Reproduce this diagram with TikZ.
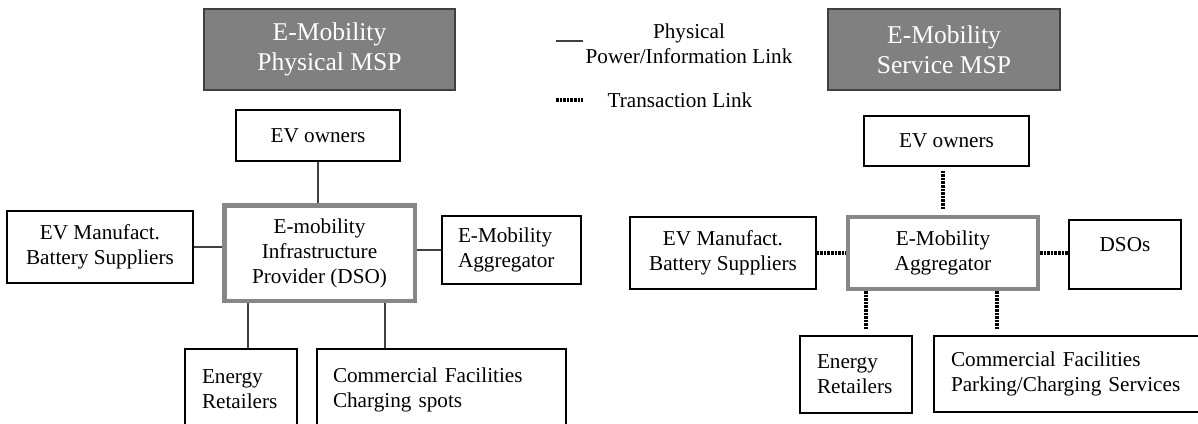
\documentclass[tikz,border=0pt]{standalone}
\usepackage{fontspec}
\setmainfont{Liberation Serif}
\usepackage{tikz}
\usepackage{xcolor}

\newcommand\unitfont{\fontsize{21.2}{25}\selectfont}
\newcommand\mspfont{\fontsize{25.6}{30}\selectfont}
\definecolor{mspfill}{RGB}{128,128,128}
\definecolor{hubline}{RGB}{135,135,135}
\definecolor{physline}{RGB}{64,64,64}

\begin{document}
\begin{tikzpicture}[x=1pt,y=-1pt,
  msp/.style={fill=mspfill,draw=black!75,line width=1.2pt,text=white,font=\mspfont,align=center,inner sep=0pt},
  unit/.style={draw,line width=1.1pt,font=\unitfont,align=center,inner sep=0pt},
  hub/.style={unit,draw=hubline,line width=4.5pt},
  phys/.style={draw=physline,line width=1.3pt},
  trans/.style={line width=3.2pt,dash pattern=on 2.6pt off 1pt}]

\useasboundingbox (0,0) rectangle (1198,423);

\node(mspL) at (329.5,49.5)[msp,minimum width=251pt,minimum height=81pt] {E-Mobility\\Physical MSP};
\node(ownL) at (318,135.5)[unit,minimum width=164pt,minimum height=51pt] {EV owners};
\node(manL) at (100,247)[unit,minimum width=186pt,minimum height=72pt] {EV Manufact.\\Battery Suppliers};
\node(infra) at (319.5,253)[hub,minimum width=190.5pt,minimum height=95.5pt] {E-mobility\\Infrastructure\\Provider (DSO)};
\node(aggL) at (511.5,250)[unit,align=left,text width=107pt,inner xsep=16pt,minimum height=68pt] {E-Mobility\\Aggregator};
\node(retL) at (241,389.5)[unit,align=left,text width=78pt,inner xsep=17pt,minimum height=81pt] {Energy\\Retailers};
\node(comL) at (441.5,389.5)[unit,align=left,text width=217pt,inner xsep=16pt,minimum height=81pt] {Commercial Facilities\\Charging spots};

\node(legP) at (689,43.5)[font=\unitfont,align=center,inner sep=0pt] {Physical\\Power/Information Link};
\node(legT) at (680,100)[font=\unitfont,inner sep=0pt] {Transaction Link};
\coordinate(solidA) at (556,41);
\coordinate(solidB) at (583,41);
\coordinate(dotA) at (556,100);
\coordinate(dotB) at (583,100);

\node(mspR) at (944,49.5)[msp,minimum width=232pt,minimum height=81pt] {E-Mobility\\Service MSP};
\node(ownR) at (946.5,141)[unit,minimum width=165pt,minimum height=50pt] {EV owners};
\node(manR) at (723,253)[unit,minimum width=186pt,minimum height=72pt] {EV Manufact.\\Battery Suppliers};
\node(aggR) at (943,253)[hub,draw=hubline,line width=4pt,minimum width=190pt,minimum height=72pt] {E-Mobility\\Aggregator};
\node(dsos) at (1125,254.5)[unit,minimum width=112pt,minimum height=69pt,text height=14pt,text depth=21pt] {DSOs};
\node(retR) at (856,374.5)[unit,align=left,text width=78pt,inner xsep=17pt,minimum height=77pt] {Energy\\Retailers};
\node(comR) at (1069.5,374)[unit,align=left,text width=237pt,inner xsep=17pt,minimum height=76pt] {Commercial Facilities\\Parking/Charging Services};

\draw[phys] (solidA) -- (solidB);
\draw[trans] (dotA) -- (dotB);

\draw[phys] (ownL.south) -- (ownL.south |- infra.north);
\draw[phys] (manL.east) -- (manL.east -| infra.west);
\draw[phys] (aggL.west -| infra.east) -- (aggL.west);
\draw[phys] ([xshift=-71.5pt]infra.south) coordinate (dropA) -- (dropA |- retL.north);
\draw[phys] ([xshift=65.5pt]infra.south) coordinate (dropB) -- (dropB |- comL.north);

\draw[trans,shorten <=4pt,shorten >=6pt] (aggR.north |- ownR.south) -- (aggR.north);
\draw[trans] (manR.east) -- (manR.east -| aggR.west);
\draw[trans] (aggR.east) -- (aggR.east -| dsos.west);
\draw[trans,shorten >=6pt] ([xshift=-77pt]aggR.south) coordinate (dropC) -- (dropC |- retR.north);
\draw[trans,shorten >=6pt] ([xshift=54pt]aggR.south) coordinate (dropD) -- (dropD |- comR.north);

\end{tikzpicture}
\end{document}
